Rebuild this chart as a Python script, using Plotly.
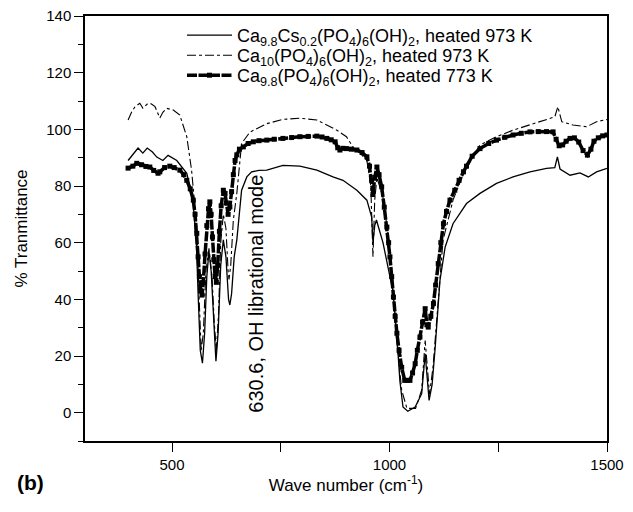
import plotly.graph_objects as go

FONT = "Liberation Sans, Arial, sans-serif"

# Ca9.8Cs0.2(PO4)6(OH)2, heated 973 K  (solid thin)
cs_x = [399, 410, 422, 433, 443, 455, 465, 479, 491, 511, 534, 548, 556, 560, 565, 570, 575, 580,
        585, 590, 596, 601, 606, 612, 618, 624, 630, 633, 637, 643, 649, 655, 660, 672, 683, 700,
        718, 755, 794, 833, 870, 893, 925, 948, 959, 962, 966, 970, 985, 1001, 1008, 1016, 1024,
        1031, 1042, 1059, 1074, 1082, 1086, 1091, 1098, 1105, 1116, 1128, 1146, 1177, 1208, 1246,
        1284, 1323, 1361, 1380, 1386, 1392, 1415, 1438, 1457, 1476, 1500]
cs_y = [89, 91, 93.4, 91.6, 93.4, 92, 90.2, 89, 90.8, 89, 84.5, 75, 60, 42, 22, 17.5, 28, 48,
        57, 50, 30, 18.2, 28, 52, 61, 55, 40, 38, 42, 55, 61, 72, 78.5, 83.2, 85, 85.5,
        85.6, 87.3, 87, 85.6, 83.2, 82, 78.5, 75, 69, 60, 66, 68, 60, 48, 43, 29, 11,
        2, 0.5, 2, 6.7, 20.8, 14, 4.3, 10, 23, 46.7, 58.5, 66.7, 73.8, 77.4, 80.9,
        83.2, 85, 86.2, 86.5, 90.3, 86, 83.8, 84.6, 83.2, 85, 86.2]

# Ca10(PO4)6(OH)2, heated 973 K  (dash-dot)
ca10_x = [399, 407, 415, 426, 433, 445, 452, 461, 472, 479, 488, 503, 518, 534, 545, 552, 557, 562,
          567, 572, 578, 585, 592, 597, 602, 607, 612, 618, 624, 629, 631, 635, 641, 649, 660, 679,
          718, 755, 794, 833, 856, 879, 901, 916, 933, 948, 957, 962, 966, 971, 985, 994, 1001,
          1009, 1017, 1028, 1040, 1060, 1074, 1082, 1092, 1100, 1108, 1123, 1146, 1169, 1208, 1246,
          1284, 1323, 1361, 1380, 1387, 1396, 1422, 1453, 1476, 1500]
ca10_y = [103.3, 106, 108, 109.2, 107.5, 109.2, 109, 108, 104, 106, 107.4, 106.8, 105, 97.4, 85.6, 75, 65.5, 42,
          22, 28, 50, 58, 48, 32, 22, 35, 60, 70, 65, 50, 47, 52, 68, 77.4, 95, 99,
          102, 103.5, 103.9, 103.3, 101.5, 99.7, 97.4, 93.8, 91.5, 89, 80, 55, 75, 83, 76, 66, 58,
          40, 25, 8, 1.5, 1.5, 8, 25.5, 6.5, 16, 32.6, 60.8, 75, 84, 94.5, 97.4,
          99.7, 101.5, 103.3, 104.4, 108, 102.7, 101.5, 100.9, 102.7, 103.5]

# Ca9.8(PO4)6(OH)2, heated 773 K  (thick dashed with squares)
ca98_x = [399, 410, 419, 430, 440, 449, 458, 468, 472, 483, 495, 505, 518, 527, 534, 542, 549, 553,
          557, 560, 563, 566, 569, 572, 576, 580, 584, 587, 590, 593, 596, 599, 602, 605, 609, 613,
          618, 622, 625, 629, 633, 637, 641, 645, 649, 655, 664, 675, 687, 700, 718, 735, 755, 775,
          794, 813, 833, 845, 856, 866, 875, 881, 886, 893, 901, 912, 925, 937, 948, 954, 959, 962,
          966, 971, 976, 982, 988, 994, 998, 1001, 1005, 1009, 1013, 1017, 1022, 1028, 1035, 1041,
          1047, 1053, 1059, 1064, 1070, 1076, 1082, 1086, 1089, 1095, 1101, 1106, 1112, 1118, 1124,
          1131, 1139, 1150, 1160, 1170, 1177, 1190, 1208, 1228, 1246, 1265, 1284, 1303, 1323, 1342,
          1361, 1376, 1383, 1390, 1398, 1406, 1415, 1425, 1435, 1445, 1455, 1463, 1470, 1480, 1490,
          1500]
ca98_y = [86.3, 87, 88, 87.5, 86.9, 86.7, 85.5, 84.5, 85, 86.5, 87, 86.5, 85.6, 84, 82, 79, 75, 70,
          63.3, 55, 48, 43, 41.5, 46, 56, 66, 72, 74.4, 70, 62, 54, 48, 46, 52, 64, 73,
          78.5, 77.4, 74, 70, 72.6, 78, 84, 89, 91, 93, 93.8, 95, 95.6, 96, 96.2, 96.5, 96.8, 97.1,
          97.4, 97.5, 97.6, 97.3, 96.8, 96.3, 95.6, 93.5, 92.7, 93.3, 93.2, 93, 92.7, 91.8, 90.3, 87, 82, 77,
          83, 86.7, 84, 79.7, 72.5, 65.5, 60, 55, 48, 40.8, 34, 28, 22, 16, 11.4, 11.4,
          11.4, 14, 17.3, 22, 26.7, 32, 36.7, 31, 30.2, 34, 38.5, 45, 52.6, 60, 66.7,
          71, 75, 78.5, 82, 85, 87, 90.5, 93.2, 95, 96.2, 97.2, 98, 98.6, 99.1, 99.2,
          99.2, 99.1, 96.5, 94.2, 94.5, 95.8, 96.8, 97, 95.5, 92.5, 90.9, 93, 95.8, 97, 97.7,
          98]

names = [
    "Ca<sub>9.8</sub>Cs<sub>0.2</sub>(PO<sub>4</sub>)<sub>6</sub>(OH)<sub>2</sub>, heated 973 K",
    "Ca<sub>10</sub>(PO<sub>4</sub>)<sub>6</sub>(OH)<sub>2</sub>, heated 973 K",
    "Ca<sub>9.8</sub>(PO<sub>4</sub>)<sub>6</sub>(OH)<sub>2</sub>, heated 773 K",
]

fig = go.Figure()
fig.add_trace(go.Scatter(x=cs_x, y=cs_y, mode="lines", name=names[0], showlegend=True,
                         line=dict(color="black", width=1.3), legend="legend"))
fig.add_trace(go.Scatter(x=ca10_x, y=ca10_y, mode="lines", name=names[1], showlegend=True,
                         line=dict(color="black", width=1.1, dash="dashdot"), legend="legend2"))
fig.add_trace(go.Scatter(x=ca98_x, y=ca98_y, mode="lines+markers", name=names[2], showlegend=True,
                         line=dict(color="black", width=3.5, dash="10px,1.5px"),
                         marker=dict(symbol="square", size=5, color="black"), legend="legend3"))

# page body adds an 8px offset; the figure is sized so the plot lands where the reference has it
OFF = 8
PL, PR, PT, PB = 85, 607, 16, 441          # plot area on screen
W, H = 633 - OFF, 512 - OFF
ml, mt = PL - OFF, PT - OFF
mr, mb = W - (PR - OFF), H - (PB - OFF)

def px2paper_x(px):
    return (px - PL) / (PR - PL)

def px2paper_y(py):
    return (PB - py) / (PB - PT)

leg_common = dict(xanchor="left", yanchor="top", bgcolor="rgba(0,0,0,0)", borderwidth=0,
                  font=dict(family=FONT, size=18, color="black"), itemwidth=45, visible=True)
lx = px2paper_x(182)

fig.update_layout(
    width=W, height=H, showlegend=True,
    margin=dict(l=ml, r=mr, t=mt, b=mb, pad=0, autoexpand=False),
    paper_bgcolor="white", plot_bgcolor="white",
    font=dict(family=FONT, color="black"),
    legend=dict(x=lx, y=px2paper_y(17), **leg_common),
    legend2=dict(x=lx, y=px2paper_y(37), **leg_common),
    legend3=dict(x=lx, y=px2paper_y(57), **leg_common),
    xaxis=dict(range=[300, 1500], tick0=0, dtick=500, ticks="outside", ticklen=9, tickwidth=1.3,
               tickcolor="black", showline=True, linecolor="black", linewidth=1.5, mirror=True,
               showgrid=False, zeroline=False, automargin=False, ticklabeloverflow="allow",
               minor=dict(dtick=250, ticks="outside", ticklen=9, tickwidth=1.3, tickcolor="black"),
               tickfont=dict(family=FONT, size=15, color="black"),
               title=dict(text="Wave number (cm<sup>-1</sup>)", font=dict(family=FONT, size=17),
                          standoff=5)),
    yaxis=dict(range=[-10, 140], tick0=0, dtick=20, ticks="outside", ticklen=9, tickwidth=1.3,
               tickcolor="black", showline=True, linecolor="black", linewidth=1.5, mirror=True,
               showgrid=False, zeroline=False, automargin=False, ticklabeloverflow="allow",
               minor=dict(dtick=10, ticks="outside", ticklen=5, tickwidth=1.3, tickcolor="black"),
               tickfont=dict(family=FONT, size=15, color="black"),
               title=dict(text="% Tranmittance", font=dict(family=FONT, size=17), standoff=14)),
    annotations=[
        dict(x=693, y=42, xref="x", yref="y", text="630.6, OH librational mode", textangle=-90,
             showarrow=False, font=dict(family=FONT, size=20, color="black")),
        dict(x=px2paper_x(15), y=px2paper_y(482), xref="paper", yref="paper", text="<b>(b)</b>",
             xanchor="left", yanchor="middle", showarrow=False,
             font=dict(family=FONT, size=21, color="black")),
    ],
)

fig.write_html("out.html")
